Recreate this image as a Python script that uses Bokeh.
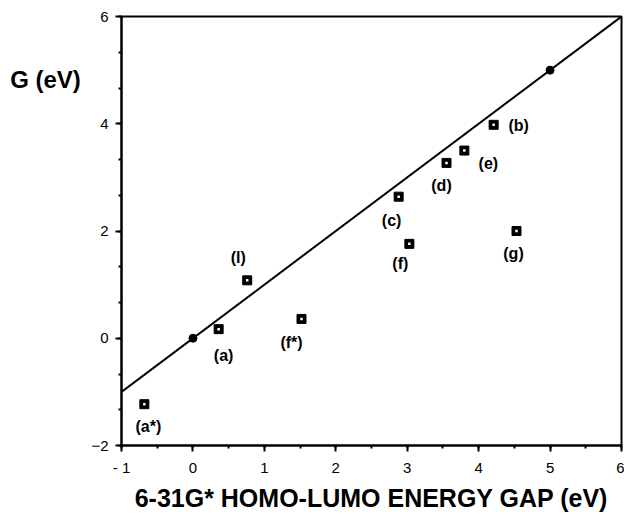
from bokeh.plotting import figure
from bokeh.layouts import row
from bokeh.models import ColumnDataSource, FixedTicker, Range1d
from bokeh.core.properties import value
from bokeh.embed import file_html
from bokeh.resources import INLINE

# data
labels = ["(a*)", "(a)", "(l)", "(f*)", "(c)", "(f)", "(d)", "(e)", "(b)", "(g)"]
gap = [-0.68, 0.36, 0.76, 1.52, 2.88, 3.03, 3.55, 3.80, 4.21, 4.53]
g_val = [-1.23, 0.17, 1.08, 0.36, 2.64, 1.76, 3.27, 3.50, 3.98, 2.00]
ref_x = [0.0, 5.0]
ref_y = [0.0, 5.0]
line_x = [-1.0, 6.0]
line_y = [-1.0, 6.0]
x_ticks = [-1, 0, 1, 2, 3, 4, 5, 6]
y_ticks = [-2, 0, 2, 4, 6]
y_title = "G (eV)"
x_title = "6-31G* HOMO-LUMO ENERGY GAP (eV)"

# label offsets in screen pixels (style)
dx = [4, 5, -9, -10, -7, -9, -5, 24, 25, -3]
dy = [22, 26, -23, 24, 24, 20, 23, 13, 1, 22]

FONT = "Liberation Sans"
LEFT_W = 86
H = 515

# left strip holding the horizontal y-axis title
side = figure(width=LEFT_W, height=H, output_backend="svg", toolbar_location=None,
              x_range=Range1d(0, LEFT_W), y_range=Range1d(0, H),
              min_border=0, min_border_left=0, min_border_right=0,
              min_border_top=0, min_border_bottom=0)
side.axis.visible = False
side.grid.visible = False
side.outline_line_color = None
side.text(x=[45], y=[H - 76], text=[y_title], text_font=value(FONT), text_font_size="24px",
          text_font_style="bold", text_align="center", text_baseline="middle",
          text_color="black")

p = figure(width=624 - LEFT_W, height=H, output_backend="svg", toolbar_location=None,
           x_range=Range1d(-1, 6), y_range=Range1d(-2, 6),
           min_border_left=121 - LEFT_W, min_border_right=3, min_border_top=16,
           min_border_bottom=70)
p.grid.visible = False
p.outline_line_color = "black"
p.outline_line_width = 2
p.background_fill_color = "white"
p.border_fill_color = "white"

p.line(line_x, line_y, line_color="black", line_width=2)
p.scatter(ref_x, ref_y, marker="circle", size=8, fill_color="black", line_color="black")

src = ColumnDataSource(dict(x=gap, y=g_val, t=labels, dx=dx, dy=dy))
p.scatter("x", "y", source=src, marker="square", size=9, fill_color="black", line_color="black")
p.scatter("x", "y", source=src, marker="square", size=2.5, fill_color="white", line_color=None)
p.text("x", "y", text="t", source=src, x_offset="dx", y_offset="dy",
       text_font=value(FONT), text_font_size="16px", text_font_style="bold",
       text_align="center", text_baseline="middle", text_color="black")

xminor = [x_ticks[0] + 0.5 * i for i in range(15)]
p.xaxis.ticker = FixedTicker(ticks=x_ticks, minor_ticks=xminor)
p.xaxis.major_label_overrides = {-1: "- 1"}
yminor = [y_ticks[0] + 2.0 / 3.0 * i for i in range(13)]
p.yaxis.ticker = FixedTicker(ticks=y_ticks, minor_ticks=yminor)

for ax in (p.xaxis, p.yaxis):
    ax.axis_line_width = 2
    ax.axis_line_color = "black"
    ax.major_tick_line_width = 2
    ax.major_tick_out = 6
    ax.major_tick_in = 0
    ax.minor_tick_line_width = 2
    ax.minor_tick_out = 3
    ax.minor_tick_in = 0
    ax.major_label_text_font = FONT
    ax.major_label_text_font_size = "15px"
    ax.major_label_text_color = "black"
    ax.major_label_standoff = 7

p.xaxis.axis_label = x_title
p.xaxis.axis_label_text_font = FONT
p.xaxis.axis_label_text_font_size = "25px"
p.xaxis.axis_label_text_font_style = "bold"
p.xaxis.axis_label_text_color = "black"
p.xaxis.axis_label_standoff = 5

layout = row(side, p, spacing=0)
open("out.html", "w").write(file_html(layout, INLINE))
